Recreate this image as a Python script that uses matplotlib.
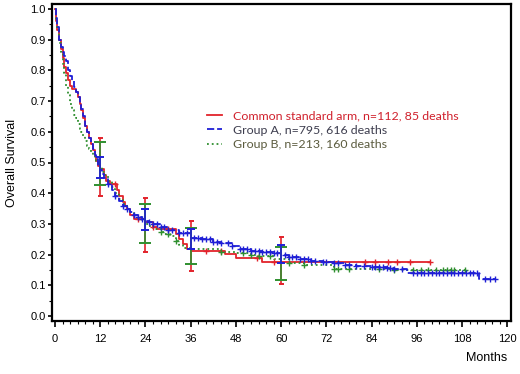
import numpy as np
import matplotlib
matplotlib.use("Agg")
import matplotlib.pyplot as plt
from matplotlib.lines import Line2D
from matplotlib.ticker import MultipleLocator

# ---------------- data ----------------
std_t = [0, 0.25, 0.5, 1, 1.5, 2, 2.5, 3, 3.5, 4, 4.5, 5.5, 6, 6.5, 7, 7.5, 8, 8.5, 9,
         9.5, 10, 10.5, 11, 11.5, 12, 13, 13.5, 14.5, 16.5, 17, 18, 18.5, 19, 20, 21,
         24, 26, 27, 32, 33, 34, 35, 36, 45, 48, 55, 99.5]
std_s = [1.0, 0.96, 0.93, 0.90, 0.87, 0.84, 0.81, 0.79, 0.77, 0.75, 0.74, 0.73, 0.714,
         0.69, 0.67, 0.645, 0.62, 0.60, 0.58, 0.56, 0.54, 0.52, 0.505, 0.49, 0.48, 0.46,
         0.44, 0.43, 0.41, 0.39, 0.37, 0.36, 0.35, 0.33, 0.315, 0.305, 0.29, 0.283,
         0.268, 0.25, 0.235, 0.22, 0.212, 0.202, 0.188, 0.176, 0.176]
std_cens = [16, 22, 26, 30, 40, 44, 53.6, 58, 82.3, 85, 88.4, 90.8, 94.2, 99.5]
std_ci_t = [12, 24, 36, 60]
std_ci_lo = [0.39, 0.21, 0.148, 0.105]
std_ci_hi = [0.58, 0.383, 0.31, 0.256]

a_t = [0, 0.25, 0.5, 1, 1.5, 2, 2.5, 3, 3.5, 4, 4.5, 5, 5.5, 6, 6.5, 7, 7.5, 8, 8.5,
       9, 9.5, 10, 10.5, 11, 11.5, 12, 12.5, 13, 14, 15, 16, 17, 18, 19, 20, 21, 22,
       23, 24, 25, 26, 28, 30, 33, 36, 39, 42, 44, 47, 49, 52, 55, 58, 60, 62, 65,
       68, 71, 74, 77, 80, 84, 88, 90, 93.4, 112.5, 116.8]
a_s = [1.0, 0.97, 0.94, 0.90, 0.875, 0.86, 0.848, 0.83, 0.80, 0.78, 0.765, 0.745,
       0.73, 0.714, 0.695, 0.675, 0.65, 0.62, 0.60, 0.58, 0.56, 0.545, 0.525, 0.51,
       0.49, 0.475, 0.462, 0.45, 0.43, 0.41, 0.39, 0.375, 0.36, 0.35, 0.34, 0.33,
       0.322, 0.316, 0.31, 0.305, 0.30, 0.29, 0.28, 0.27, 0.255, 0.25, 0.242, 0.238,
       0.228, 0.218, 0.212, 0.208, 0.204, 0.2, 0.193, 0.186, 0.18, 0.177, 0.172,
       0.167, 0.163, 0.16, 0.155, 0.152, 0.141, 0.12, 0.12]
a_cens = [14, 16, 18, 19, 21, 22, 23, 25, 26, 27, 28, 29, 30, 31, 33, 34, 35, 37, 38,
          39, 40, 41, 42, 43, 44, 46, 47, 49, 50, 51, 52, 53, 54, 55, 56, 57, 58, 59,
          61, 62, 63, 64, 65, 66, 67, 68, 69, 71, 72, 74, 75, 77, 78, 80, 82, 84,
          85, 86, 87, 88, 89, 90, 92, 95, 96, 97, 98, 99, 100, 101, 102, 103, 104,
          105, 106, 107, 108, 109, 110, 111, 112, 114, 115.5, 116.8]
a_ci_t = [12, 24, 36, 60]
a_ci_lo = [0.45, 0.28, 0.218, 0.173]
a_ci_hi = [0.518, 0.348, 0.283, 0.231]

b_t = [0, 0.25, 0.5, 1, 1.5, 2, 2.5, 3, 3.5, 4, 4.5, 5, 5.5, 6, 6.5, 7, 7.5, 8, 8.5,
       9, 9.5, 10, 10.5, 11, 11.5, 12, 12.5, 13, 14, 15, 16, 17, 18, 19, 20, 21, 22,
       23, 24, 25, 26, 28, 29, 30.5, 32, 33, 34, 36, 44, 48, 52, 54, 58, 62, 66, 74,
       90, 108.8]
b_s = [1.0, 0.96, 0.93, 0.89, 0.86, 0.82, 0.79, 0.75, 0.72, 0.69, 0.67, 0.655, 0.645,
       0.625, 0.61, 0.60, 0.585, 0.57, 0.555, 0.545, 0.535, 0.525, 0.515, 0.505,
       0.495, 0.485, 0.47, 0.46, 0.44, 0.42, 0.40, 0.38, 0.365, 0.35, 0.34, 0.33,
       0.32, 0.31, 0.30, 0.293, 0.285, 0.275, 0.268, 0.26, 0.245, 0.23, 0.222, 0.218,
       0.21, 0.205, 0.2, 0.195, 0.185, 0.172, 0.165, 0.153, 0.15, 0.15]
b_cens = [28, 30, 32, 44, 50, 52, 54, 57, 62, 66, 74, 75, 78, 86, 90, 95, 97, 99,
          101, 103, 104, 105, 106, 108.8]
b_ci_t = [12, 24, 36, 60]
b_ci_lo = [0.427, 0.238, 0.168, 0.117]
b_ci_hi = [0.566, 0.364, 0.288, 0.225]

labels = ["Common standard arm, n=112, 85 deaths",
          "Group A, n=795, 616 deaths",
          "Group B, n=213, 160 deaths"]
x_ticks = [0, 12, 24, 36, 48, 60, 72, 84, 96, 108, 120]
y_ticks = [0.0, 0.1, 0.2, 0.3, 0.4, 0.5, 0.6, 0.7, 0.8, 0.9, 1.0]

# ---------------- style ----------------
RED = "#e2232b"
BLUE = "#1f1fd6"
GREEN = "#2f8f2f"
text_cols = ["#d0202c", "#3d3d4e", "#5b5b3e"]

plt.rcParams["font.family"] = ["Liberation Sans", "DejaVu Sans"]

fig = plt.figure(figsize=(5.2, 3.74), dpi=100)
ax = fig.add_axes([52 / 520, 53 / 374, 459 / 520, 317 / 374])


def surv_at(t, s, x):
    idx = np.searchsorted(np.asarray(t), np.asarray(x), side="right") - 1
    return np.asarray(s)[idx]


series = [
    (std_t, std_s, std_cens, std_ci_t, std_ci_lo, std_ci_hi, RED, "-", 1.8),
    (b_t, b_s, b_cens, b_ci_t, b_ci_lo, b_ci_hi, GREEN, ":", 4.5),
    (a_t, a_s, a_cens, a_ci_t, a_ci_lo, a_ci_hi, BLUE, (0, (4, 1.6)), 3.2),
]

for t, s, cens, cit, lo, hi, col, ls, cap in series:
    ax.step(t, s, where="post", color=col, lw=1.3, ls=ls, zorder=3)
    ax.plot(cens, surv_at(t, s, cens), ls="none", marker="+", ms=4.5, mew=1.0,
            color=col, zorder=4)
    lo = np.asarray(lo)
    hi = np.asarray(hi)
    mid = surv_at(t, s, cit)
    ax.errorbar(cit, mid, yerr=[mid - lo, hi - mid], fmt="none", ecolor=col,
                elinewidth=1.2, capsize=cap, capthick=1.4, zorder=5)

ax.set_xlim(-0.8, 121)
ax.set_ylim(-0.016, 1.016)
ax.set_xticks(x_ticks)
ax.set_yticks(y_ticks)
ax.set_yticklabels([f"{v:.1f}" for v in y_ticks])
ax.xaxis.set_minor_locator(MultipleLocator(2))
ax.yaxis.set_minor_locator(MultipleLocator(0.05))
ax.tick_params(axis="both", which="major", labelsize=8, width=1.2, color="black")
ax.tick_params(axis="x", which="major", length=4, pad=5)
ax.tick_params(axis="y", which="major", length=3, pad=1.5)
ax.tick_params(axis="both", which="minor", length=2, width=0.8)
for sp in ax.spines.values():
    sp.set_linewidth(1.6)
    sp.set_color("black")

ax.set_ylabel("Overall Survival", fontsize=9, labelpad=9)
fig.text(507 / 520, 1 - 358 / 374, "Months", ha="right", va="center", fontsize=9)

handles = [Line2D([], [], color=RED, lw=1.3, ls="-"),
           Line2D([], [], color=BLUE, lw=1.3, ls=(0, (4, 1.6))),
           Line2D([], [], color=GREEN, lw=1.3, ls=":")]
leg = ax.legend(handles, labels, loc="upper left", bbox_to_anchor=(0.324, 0.685),
                frameon=False, handlelength=1.2, handletextpad=0.9, labelspacing=0.3,
                borderpad=0, prop={"family": ["Lato", "DejaVu Sans"], "size": 8.9})
for txt, c in zip(leg.get_texts(), text_cols):
    txt.set_color(c)

fig.savefig("out.png", dpi=100)
